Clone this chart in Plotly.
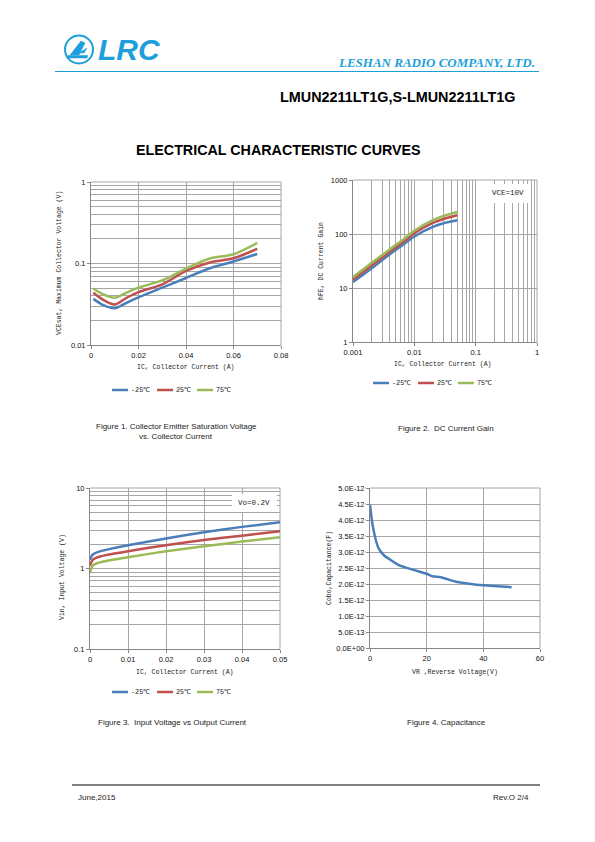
import plotly.graph_objects as go

OFF = 8  # default page margin of the html body
W, H = 595 - 2 * OFF, 842 - 2 * OFF

# ---------------- data ----------------
temps = ["-25℃", "25℃", "75℃"]
colors = ["#4a7ebb", "#c0504d", "#9bbb59"]

# Figure 1: VCEsat vs IC
ic1 = [0.001, 0.005, 0.01, 0.015, 0.02, 0.03, 0.04, 0.05, 0.06, 0.07]
vce_m25 = [0.0368, 0.031, 0.0282, 0.033, 0.0383, 0.0505, 0.0664, 0.0875, 0.106, 0.131]
vce_25 = [0.0437, 0.036, 0.0313, 0.038, 0.0445, 0.0555, 0.081, 0.103, 0.116, 0.151]
vce_75 = [0.0494, 0.042, 0.0379, 0.044, 0.0505, 0.062, 0.0867, 0.115, 0.13, 0.179]

# Figure 2: hFE vs IC
ic2 = [0.001, 0.002, 0.003, 0.005, 0.007, 0.01, 0.02, 0.03, 0.05]
hfe_m25 = [12.9, 23, 33, 51, 67, 90, 135, 158, 179]
hfe_25 = [14.3, 26, 37, 57, 75, 103, 160, 190, 222]
hfe_75 = [16, 29, 41, 63, 83, 115, 180, 215, 255]

# Figure 3: Vin vs IC
ic3 = [0, 0.0005, 0.001, 0.002, 0.005, 0.01, 0.02, 0.03, 0.04, 0.05]
vin_m25 = [1.28, 1.45, 1.52, 1.6, 1.74, 1.95, 2.36, 2.82, 3.29, 3.75]
vin_25 = [1.08, 1.24, 1.31, 1.38, 1.49, 1.64, 1.95, 2.26, 2.56, 2.9]
vin_75 = [0.875, 1.04, 1.11, 1.17, 1.26, 1.38, 1.64, 1.89, 2.16, 2.44]

# Figure 4: Cobo vs VR
vr = [0, 0.5, 1, 2, 3, 5, 8, 10, 15, 20, 22, 25, 30, 35, 40, 45, 50]
cobo = [4.48e-12, 4.1e-12, 3.8e-12, 3.39e-12, 3.12e-12, 2.89e-12, 2.71e-12, 2.6e-12,
        2.45e-12, 2.32e-12, 2.24e-12, 2.21e-12, 2.08e-12, 2.01e-12, 1.96e-12, 1.93e-12, 1.9e-12]

cap_ticks = [i * 0.5e-12 for i in range(11)]
cap_labels = ["0.0E+00", "5.0E-13", "1.0E-12", "1.5E-12", "2.0E-12", "2.5E-12",
              "3.0E-12", "3.5E-12", "4.0E-12", "4.5E-12", "5.0E-12"]

# ---------------- helpers (page pixel -> paper fraction) ----------------
def px(x):
    return (x - OFF) / W


def py(y):
    return 1 - (y - OFF) / H


def dom_x(a, b):
    return [px(a), px(b)]


def dom_y(top, bottom):
    return [py(bottom), py(top)]


def minor_log(lo_exp, hi_exp):
    vals = []
    for e in range(lo_exp, hi_exp):
        for m in range(2, 10):
            vals.append(m * 10 ** e)
    return vals


GRID = "#a6a6a6"
AXIS = "#868686"
TICKFONT = dict(family="Liberation Sans, Arial", size=7.5, color="#111111")
MONO = "Liberation Mono, DejaVu Sans Mono, monospace"

fig = go.Figure()

series1 = [vce_m25, vce_25, vce_75]
series2 = [hfe_m25, hfe_25, hfe_75]
series3 = [vin_m25, vin_25, vin_75]
for i in range(3):
    fig.add_trace(go.Scatter(x=ic1, y=series1[i], mode="lines", name=temps[i],
                             line=dict(color=colors[i], width=2.5, shape="spline", smoothing=0.8),
                             xaxis="x", yaxis="y", showlegend=False))
for i in range(3):
    fig.add_trace(go.Scatter(x=ic2, y=series2[i], mode="lines", name=temps[i],
                             line=dict(color=colors[i], width=2.5, shape="spline", smoothing=0.8),
                             xaxis="x2", yaxis="y2", showlegend=False))
for i in range(3):
    fig.add_trace(go.Scatter(x=ic3, y=series3[i], mode="lines", name=temps[i],
                             line=dict(color=colors[i], width=2.5, shape="spline", smoothing=0.6),
                             xaxis="x3", yaxis="y3", showlegend=False))
fig.add_trace(go.Scatter(x=vr, y=cobo, mode="lines", name="Cobo",
                         line=dict(color="#4a7ebb", width=2.5, shape="spline", smoothing=0.6),
                         xaxis="x4", yaxis="y4", showlegend=False))

common = dict(showline=True, linecolor=AXIS, linewidth=1, mirror=False,
              gridcolor=GRID, gridwidth=1, ticks="outside", ticklen=3,
              tickcolor=AXIS, tickfont=TICKFONT, zeroline=False, automargin=False)

layout_axes = dict(
    xaxis=dict(domain=dom_x(91, 281), anchor="y", range=[0, 0.08],
               tickvals=[0, 0.02, 0.04, 0.06, 0.08],
               ticktext=["0", "0.02", "0.04", "0.06", "0.08"], **common),
    yaxis=dict(domain=dom_y(182, 345), anchor="x", type="log", range=[-2, 0],
               tickvals=[0.01, 0.1, 1], ticktext=["0.01", "0.1", "1"],
               minor=dict(tickvals=minor_log(-2, 0), showgrid=True, gridcolor=GRID, ticks=""),
               **common),
    xaxis2=dict(domain=dom_x(353, 537), anchor="y2", type="log", range=[-3, 0],
                tickvals=[0.001, 0.01, 0.1, 1], ticktext=["0.001", "0.01", "0.1", "1"],
                minor=dict(tickvals=minor_log(-3, 0), showgrid=True, gridcolor=GRID, ticks=""),
                **common),
    yaxis2=dict(domain=dom_y(180, 342), anchor="x2", type="log", range=[0, 3],
                tickvals=[1, 10, 100, 1000], ticktext=["1", "10", "100", "1000"], **common),
    xaxis3=dict(domain=dom_x(90, 280), anchor="y3", range=[0, 0.05],
                tickvals=[0, 0.01, 0.02, 0.03, 0.04, 0.05],
                ticktext=["0", "0.01", "0.02", "0.03", "0.04", "0.05"], **common),
    yaxis3=dict(domain=dom_y(488, 649), anchor="x3", type="log", range=[-1, 1],
                tickvals=[0.1, 1, 10], ticktext=["0.1", "1", "10"],
                minor=dict(tickvals=minor_log(-1, 1), showgrid=True, gridcolor=GRID, ticks=""),
                **common),
    xaxis4=dict(domain=dom_x(370, 540), anchor="y4", range=[0, 60],
                tickvals=[0, 20, 40, 60], ticktext=["0", "20", "40", "60"], **common),
    yaxis4=dict(domain=dom_y(488, 648), anchor="x4", range=[0, 5e-12],
                tickvals=cap_ticks, ticktext=cap_labels, **common),
)

shapes = []
annotations = []

# plot frames (top/right edges)
for (x0, x1, y0, y1) in [(91, 281, 182, 345), (353, 537, 180, 342), (90, 280, 488, 649), (370, 540, 488, 648)]:
    shapes.append(dict(type="line", xref="paper", yref="paper", x0=px(x0), x1=px(x1), y0=py(y0), y1=py(y0),
                       line=dict(color=GRID, width=1), layer="below"))
    shapes.append(dict(type="line", xref="paper", yref="paper", x0=px(x1), x1=px(x1), y0=py(y0), y1=py(y1),
                       line=dict(color=GRID, width=1), layer="below"))


def text(x, y, s, size=7.5, family="Liberation Sans, Arial", color="#222222",
         xanchor="center", yanchor="middle", textangle=0, bold=False, italic=False, **kw):
    if bold:
        s = "<b>" + s + "</b>"
    if italic:
        s = "<i>" + s + "</i>"
    d = dict(x=px(x), y=py(y), xref="paper", yref="paper", text=s, showarrow=False,
             font=dict(size=size, family=family, color=color), xanchor=xanchor, yanchor=yanchor,
             textangle=textangle)
    d.update(kw)
    annotations.append(d)


# header
BLUE = "#1c9fda"
shapes.append(dict(type="circle", xref="paper", yref="paper", x0=px(65), x1=px(93), y0=py(63.5), y1=py(35.5),
                   line=dict(color=BLUE, width=2)))
shapes.append(dict(type="path", xref="paper", yref="paper",
                   path="M {} {} L {} {} L {} {} L {} {} Z".format(
                       px(70), py(55), px(81), py(41), px(85), py(43), px(79), py(55)),
                   fillcolor=BLUE, line=dict(color=BLUE, width=0.5)))
shapes.append(dict(type="path", xref="paper", yref="paper",
                   path="M {} {} L {} {} L {} {} L {} {} Z".format(
                       px(68), py(55.5), px(88), py(55.5), px(87), py(58), px(67), py(58)),
                   fillcolor=BLUE, line=dict(color=BLUE, width=0.5)))
shapes.append(dict(type="path", xref="paper", yref="paper",
                   path="M {} {} L {} {} L {} {} Z".format(
                       px(79), py(53), px(87), py(48), px(84), py(53)),
                   fillcolor=BLUE, line=dict(color=BLUE, width=0.5)))
text(96, 49.5, "LRC", size=30, family="Liberation Sans, Arial", color=BLUE, xanchor="left",
     bold=True, italic=True)
shapes.append(dict(type="line", xref="paper", yref="paper", x0=px(55), x1=px(539), y0=py(71.5), y1=py(71.5),
                   line=dict(color=BLUE, width=1.2)))
text(537, 62, "LESHAN RADIO COMPANY, LTD.", size=13, family="Liberation Serif, Times New Roman",
     color=BLUE, xanchor="right", bold=True, italic=True)
text(398, 97, "LMUN2211LT1G,S-LMUN2211LT1G", size=14.4, color="#000000", bold=True)
text(278, 150, "ELECTRICAL CHARACTERISTIC CURVES", size=14.3, color="#000000", bold=True)

# axis titles
text(186, 367, "IC, Collector Current (A)", size=6.5, family=MONO)
text(59, 263, "VCEsat, Maximum Collector Voltage (V)", size=6.5, family=MONO, textangle=-90)
text(443, 364, "IC, Collector Current (A)", size=6.5, family=MONO)
text(322, 261, "hFE, DC Current Gain", size=6.5, family=MONO, textangle=-90)
text(185, 672, "IC, Collector Current (A)", size=6.5, family=MONO)
text(62, 577, "Vin, Input Voltage (V)", size=6.5, family=MONO, textangle=-90)
text(455, 672, "VR ,Reverse Voltage(V)", size=6.5, family=MONO)
text(329, 568, "Cobo,Capacitance(F)", size=6.5, family=MONO, textangle=-90)

# condition boxes
shapes.append(dict(type="rect", xref="paper", yref="paper", x0=px(487), x1=px(528), y0=py(203), y1=py(184),
                   fillcolor="white", line=dict(width=0), layer="above"))
text(508, 193, "VCE=10V", size=7.5, family=MONO)
shapes.append(dict(type="rect", xref="paper", yref="paper", x0=px(232), x1=px(277), y0=py(512), y1=py(494),
                   fillcolor="white", line=dict(width=0), layer="above"))
text(254, 503, "Vo=0.2V", size=7.5, family=MONO)

# legends
for (lx, ly) in [(112, 390), (373, 383), (112, 692)]:
    offs = [0, 45, 85]
    for i in range(3):
        x0 = lx + offs[i]
        shapes.append(dict(type="line", xref="paper", yref="paper", x0=px(x0), x1=px(x0 + 16),
                           y0=py(ly), y1=py(ly), line=dict(color=colors[i], width=2.5)))
        text(x0 + 17, ly, temps[i], size=6.8, family=MONO, xanchor="left")

# captions
text(176, 427, "Figure 1. Collector Emitter Saturation Voltage", size=8)
text(176, 436.5, "vs. Collector Current", size=8)
text(446, 428, "Figure 2.  DC Current Gain", size=8)
text(172, 722, "Figure 3.  Input Voltage vs Output Current", size=8)
text(446, 722, "Figure 4. Capacitance", size=8)

# footer
shapes.append(dict(type="line", xref="paper", yref="paper", x0=px(72), x1=px(540), y0=py(785), y1=py(785),
                   line=dict(color="#000000", width=1)))
text(76, 797, "June,2015", size=8, xanchor="left")
text(531, 797, "Rev.O 2/4", size=8, xanchor="right")

fig.update_layout(width=W, height=H, margin=dict(l=0, r=0, t=0, b=0, autoexpand=False),
                  paper_bgcolor="white", plot_bgcolor="white",
                  shapes=shapes, annotations=annotations, **layout_axes)

fig.write_html("out.html")
